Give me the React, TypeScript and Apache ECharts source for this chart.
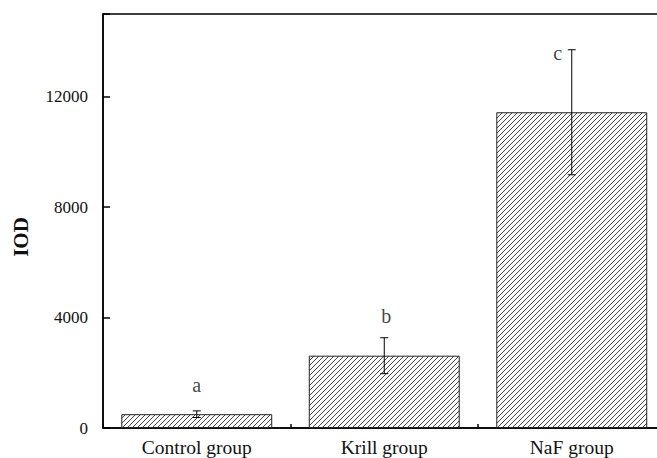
import React, { useEffect, useRef } from "react";
import * as echarts from "echarts";

const categories = ["Control group", "Krill group", "NaF group"];
const iodMeans = [500, 2620, 11440];
const iodErrors = [120, 650, 2265];
const letters = ["a", "b", "c"];
const letterValues = [1560, 4060, 13590];
const letterOffsetsX = [0, 2, -14];
const yMajorTicks = [0, 4000, 8000, 12000];
const yAxisTitle = "IOD";

function makeHatch(): HTMLCanvasElement {
  const c = document.createElement("canvas");
  c.width = 10;
  c.height = 10;
  const ctx = c.getContext("2d")!;
  ctx.fillStyle = "#ffffff";
  ctx.fillRect(0, 0, 10, 10);
  ctx.strokeStyle = "#444444";
  ctx.lineWidth = 1;
  for (let k = -10; k <= 20; k += 5) {
    ctx.beginPath();
    ctx.moveTo(-1, k + 1);
    ctx.lineTo(11, k - 11);
    ctx.stroke();
  }
  return c;
}

export default function App() {
  const ref = useRef<HTMLDivElement>(null);
  useEffect(() => {
    if (!ref.current) return;
    const chart = echarts.init(ref.current, undefined, { renderer: "svg" });
    const font = "Liberation Serif, DejaVu Serif, serif";
    const hatch = makeHatch();
    const errData = iodMeans.map((m, i) => [i, m - iodErrors[i], m + iodErrors[i]]);
    const letterData = letters.map((l, i) => ({
      value: [i, letterValues[i]],
      label: { formatter: l, offset: [letterOffsetsX[i], 0] },
    }));
    chart.setOption({
      animation: false,
      backgroundColor: "#ffffff",
      textStyle: { fontFamily: font },
      grid: {
        left: 103,
        top: 14,
        width: 562.5,
        height: 414,
        outerBoundsMode: "none",
        containLabel: false,
        show: true,
        borderColor: "#000",
        borderWidth: 1.5,
        backgroundColor: "transparent",
      },
      graphic: [
        {
          type: "text",
          x: 21,
          y: 237,
          rotation: Math.PI / 2,
          style: {
            text: yAxisTitle,
            fontFamily: font,
            fontSize: 21,
            fontWeight: "bold",
            fill: "#111",
            align: "center",
            verticalAlign: "middle",
          },
        },
      ],
      xAxis: [
        {
          type: "category",
          data: categories,
          boundaryGap: true,
          axisLine: { lineStyle: { color: "#000", width: 1.5 } },
          axisTick: { show: true, inside: true, alignWithLabel: true, length: 7, lineStyle: { color: "#000", width: 1.5 } },
          axisLabel: { color: "#111", fontFamily: font, fontSize: 19.5, margin: 9 },
          splitLine: { show: false },
        },
        {
          type: "category",
          data: categories,
          position: "bottom",
          boundaryGap: true,
          axisLine: { show: false },
          axisTick: { show: true, inside: true, length: 4, lineStyle: { color: "#000", width: 1.5 } },
          axisLabel: { show: false },
          splitLine: { show: false },
        },
      ],
      yAxis: [
        {
          type: "value",
          min: 0,
          max: 15000,
          interval: 4000,
          axisLine: { show: true, lineStyle: { color: "#000", width: 1.5 } },
          axisTick: { show: true, inside: true, length: 7, lineStyle: { color: "#000", width: 1.5 } },
          axisLabel: {
            color: "#111",
            fontFamily: font,
            fontSize: 17,
            margin: 15,
            formatter: (v: number) => (yMajorTicks.indexOf(v) >= 0 ? String(v) : ""),
          },
          splitLine: { show: false },
        },
        {
          type: "value",
          min: 0,
          max: 15000,
          interval: 2000,
          axisLine: { show: false },
          axisTick: { show: true, inside: true, length: 4, lineStyle: { color: "#000", width: 1.5 } },
          axisLabel: { show: false },
          splitLine: { show: false },
        },
      ],
      series: [
        {
          type: "bar",
          data: iodMeans,
          barWidth: "80.5%",
          itemStyle: {
            color: { image: hatch, repeat: "repeat" },
            borderColor: "#222",
            borderWidth: 1,
          },
        },
        {
          type: "custom",
          data: errData,
          z: 5,
          renderItem: (params: any, api: any) => {
            const x = api.value(0);
            const lo = api.coord([x, api.value(1)]);
            const hi = api.coord([x, api.value(2)]);
            const w = 4;
            const style = { stroke: "#000", lineWidth: 1 };
            return {
              type: "group",
              children: [
                { type: "line", shape: { x1: hi[0], y1: hi[1], x2: lo[0], y2: lo[1] }, style },
                { type: "line", shape: { x1: hi[0] - w, y1: hi[1], x2: hi[0] + w, y2: hi[1] }, style },
                { type: "line", shape: { x1: lo[0] - w, y1: lo[1], x2: lo[0] + w, y2: lo[1] }, style },
              ],
            };
          },
        },
        {
          type: "scatter",
          data: letterData,
          symbolSize: 0,
          z: 6,
          label: {
            show: true,
            position: "inside",
            fontFamily: font,
            fontSize: 20,
            color: "#111",
          },
        },
      ],
    });
    return () => chart.dispose();
  }, []);
  return (
    <div
      ref={ref}
      style={{ position: "fixed", left: 0, top: 0, width: 657, height: 458, background: "#fff" }}
    />
  );
}
